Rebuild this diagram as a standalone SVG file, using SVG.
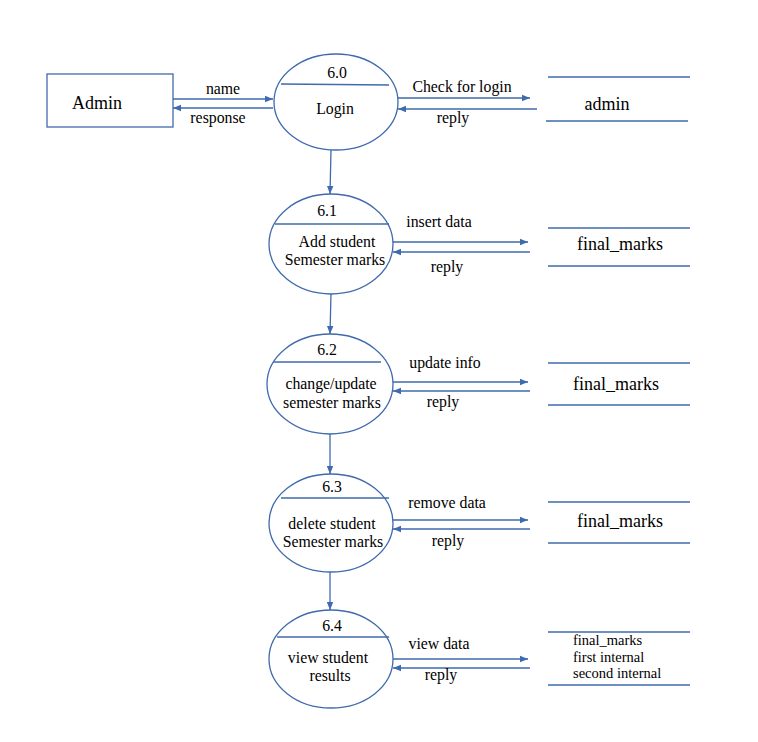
<svg xmlns="http://www.w3.org/2000/svg" width="758" height="742" viewBox="0 0 758 742" font-family="'Liberation Serif', 'DejaVu Serif', serif">
<style>
.ln{stroke:#3f6aad;stroke-width:1.3;fill:none}
.sh{stroke:#3f6aad;stroke-width:1.3;fill:#fff}
text{fill:#000}
.lb{font-size:15.8px;text-anchor:middle}
.nd{font-size:15.8px;text-anchor:middle}
.st{font-size:18px;text-anchor:middle}
.sm{font-size:14.5px}
</style>
<defs>
<marker id="ah" viewBox="0 0 10 10" refX="10" refY="5" markerWidth="8" markerHeight="8" markerUnits="userSpaceOnUse" orient="auto">
<path d="M0,1 L10,5 L0,9 z" fill="#3f6aad"/>
</marker>
</defs>
<rect width="758" height="742" fill="#fff"/>
<g id="connectors">
<line class="ln" x1="173" y1="99" x2="273" y2="99" marker-end="url(#ah)"/>
<line class="ln" x1="273" y1="108" x2="173" y2="108" marker-end="url(#ah)"/>
<text class="lb" x="223" y="94">name</text>
<text class="lb" x="218" y="123">response</text>
<line class="ln" x1="398" y1="98" x2="530" y2="98" marker-end="url(#ah)"/>
<line class="ln" x1="537" y1="109" x2="398" y2="109" marker-end="url(#ah)"/>
<text class="lb" x="462" y="92">Check for login</text>
<text class="lb" x="453" y="123">reply</text>
<line class="ln" x1="331" y1="150" x2="330" y2="194" marker-end="url(#ah)"/>
<line class="ln" x1="393" y1="242" x2="528" y2="242" marker-end="url(#ah)"/>
<line class="ln" x1="530" y1="252" x2="393" y2="252" marker-end="url(#ah)"/>
<text class="lb" x="439" y="227">insert data</text>
<text class="lb" x="447" y="272">reply</text>
<line class="ln" x1="331" y1="293" x2="330" y2="334" marker-end="url(#ah)"/>
<line class="ln" x1="393" y1="382" x2="528" y2="382" marker-end="url(#ah)"/>
<line class="ln" x1="530" y1="391" x2="393" y2="391" marker-end="url(#ah)"/>
<text class="lb" x="445" y="368">update info</text>
<text class="lb" x="443" y="407">reply</text>
<line class="ln" x1="330" y1="434" x2="330" y2="474" marker-end="url(#ah)"/>
<line class="ln" x1="393" y1="520" x2="528" y2="520" marker-end="url(#ah)"/>
<line class="ln" x1="530" y1="529" x2="393" y2="529" marker-end="url(#ah)"/>
<text class="lb" x="447" y="508">remove data</text>
<text class="lb" x="448" y="546">reply</text>
<line class="ln" x1="330" y1="572" x2="330" y2="610" marker-end="url(#ah)"/>
<line class="ln" x1="393" y1="659" x2="528" y2="659" marker-end="url(#ah)"/>
<line class="ln" x1="530" y1="668" x2="393" y2="668" marker-end="url(#ah)"/>
<text class="lb" x="439" y="649">view data</text>
<text class="lb" x="441" y="680">reply</text>
</g>
<g id="admin-entity">
<rect class="sh" x="47" y="74" width="126" height="53"/>
<text class="st" x="97" y="109">Admin</text>
</g>
<g id="p6-0">
<ellipse class="sh" cx="336" cy="102" rx="62" ry="48"/>
<line class="ln" x1="281" y1="84" x2="389" y2="85"/>
<text class="nd" x="337" y="78">6.0</text>
<text class="nd" x="335" y="114">Login</text>
</g>
<g id="store-admin">
<line class="ln" x1="548" y1="77" x2="690" y2="77"/>
<line class="ln" x1="546" y1="121" x2="688" y2="121"/>
<text class="st" x="607" y="110">admin</text>
</g>
<g id="p6-1">
<ellipse class="sh" cx="331" cy="244" rx="62" ry="50"/>
<line class="ln" x1="275" y1="224" x2="389" y2="224"/>
<text class="nd" x="327" y="216">6.1</text>
<text class="nd" x="337" y="247">Add student</text>
<text class="nd" x="335" y="265">Semester marks</text>
</g>
<g id="store-1">
<line class="ln" x1="548" y1="228" x2="690" y2="228"/>
<line class="ln" x1="548" y1="266" x2="690" y2="266"/>
<text class="st" x="620" y="250">final_marks</text>
</g>
<g id="p6-2">
<ellipse class="sh" cx="330" cy="384" rx="63" ry="50"/>
<line class="ln" x1="273" y1="362" x2="381" y2="362"/>
<text class="nd" x="327" y="355">6.2</text>
<text class="nd" x="331" y="389">change/update</text>
<text class="nd" x="332" y="408">semester marks</text>
</g>
<g id="store-2">
<line class="ln" x1="548" y1="363" x2="690" y2="363"/>
<line class="ln" x1="548" y1="405" x2="690" y2="405"/>
<text class="st" x="616" y="390">final_marks</text>
</g>
<g id="p6-3">
<ellipse class="sh" cx="331" cy="523" rx="62" ry="49"/>
<line class="ln" x1="281" y1="498" x2="389" y2="498"/>
<text class="nd" x="332" y="492">6.3</text>
<text class="nd" x="332" y="529">delete student</text>
<text class="nd" x="333" y="547">Semester marks</text>
</g>
<g id="store-3">
<line class="ln" x1="548" y1="502" x2="690" y2="502"/>
<line class="ln" x1="548" y1="543" x2="690" y2="543"/>
<text class="st" x="620" y="527">final_marks</text>
</g>
<g id="p6-4">
<ellipse class="sh" cx="331" cy="659" rx="62" ry="49"/>
<line class="ln" x1="277" y1="637" x2="389" y2="637"/>
<text class="nd" x="332" y="631">6.4</text>
<text class="nd" x="328" y="663">view student</text>
<text class="nd" x="330" y="681">results</text>
</g>
<g id="store-4">
<line class="ln" x1="548" y1="632" x2="690" y2="632"/>
<line class="ln" x1="548" y1="685" x2="690" y2="685"/>
<text class="sm" x="573" y="645">final_marks</text>
<text class="sm" x="573" y="662">first internal</text>
<text class="sm" x="573" y="678">second internal</text>
</g>
</svg>
